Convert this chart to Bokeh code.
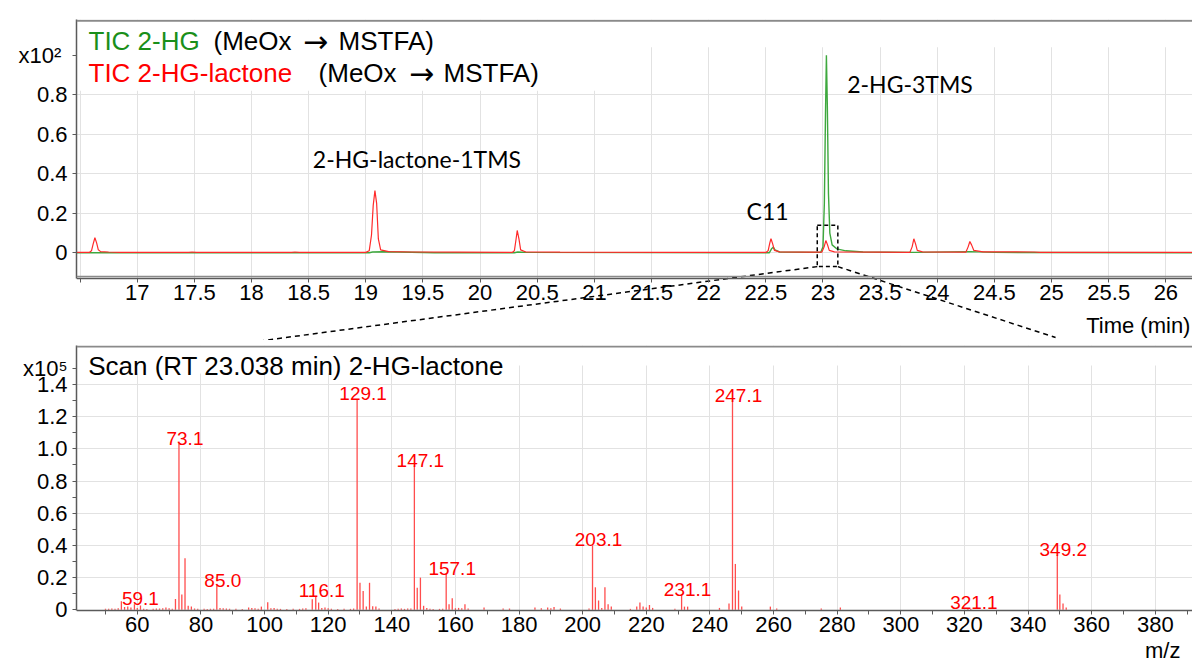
from bokeh.plotting import figure
from bokeh.layouts import column
from bokeh.models import Range1d, FixedTicker, Label, BoxAnnotation, Span
from bokeh.core.properties import value
from bokeh.embed import file_html
from bokeh.resources import INLINE

SANS = "Liberation Sans"
CAPTION = "Lato"
ARROW_FONT = "DejaVu Sans"
GREEN_TXT = "#1a8f1a"
GREEN_LINE = "#3ea83e"
RED_TXT = "#ff0000"
RED_LINE = "#ff2a2a"
STICK = "#ff4d4d"
GRID = "#e2e2e2"
AXIS = "#5a5a5a"
FRAME = "#8a8a8a"

# ---- TIC traces, retention time (min) vs. abundance (x10^2) ----
TIC_LACTONE_T = [16.47, 16.58, 16.60, 16.615, 16.63, 16.645, 16.66, 16.68, 16.75, 16.85,
                 17.45, 17.48, 17.52, 18.35, 18.38, 18.42,
                 19.00, 19.03, 19.05, 19.065, 19.08, 19.095, 19.11, 19.13, 19.20, 19.40, 19.80,
                 20.28, 20.30, 20.315, 20.325, 20.34, 20.355, 20.40, 20.70, 21.70,
                 22.50, 22.52, 22.535, 22.545, 22.56, 22.575, 22.62, 22.90,
                 22.99, 23.01, 23.025, 23.04, 23.055, 23.10, 23.50,
                 23.76, 23.78, 23.795, 23.81, 23.825, 23.87,
                 24.25, 24.27, 24.285, 24.30, 24.32, 24.40, 24.85, 24.90, 26.25]
TIC_LACTONE_I = [0.002, 0.002, 0.010, 0.045, 0.076, 0.050, 0.015, 0.006, 0.004, 0.002,
                 0.002, 0.004, 0.002, 0.002, 0.004, 0.002,
                 0.002, 0.010, 0.090, 0.240, 0.315, 0.250, 0.070, 0.015, 0.006, 0.004, 0.003,
                 0.002, 0.010, 0.070, 0.113, 0.070, 0.015, 0.004, 0.003, 0.002,
                 0.002, 0.010, 0.050, 0.071, 0.045, 0.012, 0.005, 0.003,
                 0.003, 0.030, 0.062, 0.040, 0.012, 0.005, 0.003,
                 0.002, 0.030, 0.071, 0.045, 0.012, 0.005,
                 0.003, 0.030, 0.057, 0.040, 0.012, 0.005, 0.004, 0.002, 0.002]

TIC_HG_T = [16.47, 19.03, 19.06, 19.15, 19.40, 19.60, 20.30, 20.33, 20.40,
            22.53, 22.55, 22.565, 22.58, 22.62, 22.98, 23.00, 23.012, 23.022, 23.03,
            23.038, 23.048, 23.06, 23.08, 23.12, 23.20, 23.35, 23.80, 24.29, 24.50, 26.25]
TIC_HG_I = [0.0, 0.0, 0.004, 0.005, 0.003, 0.0, 0.0, 0.004, 0.002,
            0.0, 0.020, 0.028, 0.015, 0.004, 0.002, 0.030, 0.250, 0.700, 1.000,
            0.750, 0.300, 0.100, 0.040, 0.020, 0.010, 0.004, 0.002, 0.006, 0.002, 0.0]

TIME_TICKS = [16.5, 17, 17.5, 18, 18.5, 19, 19.5, 20, 20.5, 21, 21.5, 22,
              22.5, 23, 23.5, 24, 24.5, 25, 25.5, 26]
TIC_TICKS = [0, 0.2, 0.4, 0.6, 0.8, 1.0]
TIC_GRID = [0, 0.2, 0.4, 0.6, 0.8]

# window around the scanned peak
ZOOM_T = [22.95, 23.13]
ZOOM_I = [-0.07, 0.14]

# ---- mass spectrum at RT 23.038 min, m/z vs. abundance (x10^5) ----
MZ = [50, 51, 52, 53, 54, 55, 56, 57, 58, 59.1, 60, 61, 62, 63, 65, 66, 67, 68, 69, 70,
      71, 72, 73.1, 74, 75, 76, 77, 78, 79, 81, 82, 83, 84, 85.0, 86, 87, 88, 89, 91, 93,
      95, 96, 97, 98, 99, 101, 102, 103, 104, 105, 107, 109, 111, 112, 113, 115, 116.1, 117,
      118, 119, 120, 121, 123, 125, 127, 128, 129.1, 130, 131, 132, 133, 134, 135, 136,
      141, 142, 143, 144, 145, 146, 147.1, 148, 149, 150, 151, 152, 153, 155, 156, 157.1,
      158, 159, 160, 161, 162, 163, 164, 169, 175, 177, 185, 187, 189, 190, 191, 193,
      202, 203.1, 204, 205, 206, 207, 208, 209, 215, 217, 218, 219, 220, 221, 222, 229,
      231.1, 232, 233, 243, 246, 247.1, 248, 249, 250, 259, 261, 275, 281, 321.1, 322,
      349.2, 350, 351, 352]
ABUND = [0.006, 0.006, 0.008, 0.006, 0.010, 0.054, 0.018, 0.020, 0.015, 0.035, 0.012,
         0.027, 0.006, 0.005, 0.006, 0.008, 0.008, 0.010, 0.015, 0.010,
         0.006, 0.068, 1.03, 0.095, 0.32, 0.025, 0.020, 0.008, 0.006, 0.006, 0.005, 0.006,
         0.006, 0.151, 0.012, 0.010, 0.008, 0.006, 0.006, 0.005,
         0.015, 0.012, 0.010, 0.006, 0.020, 0.047, 0.010, 0.012, 0.006, 0.006, 0.005, 0.006,
         0.006, 0.008, 0.010, 0.065, 0.085, 0.045,
         0.012, 0.015, 0.010, 0.006, 0.005, 0.006, 0.006, 0.008, 1.31, 0.168, 0.117, 0.020,
         0.168, 0.022, 0.020, 0.008,
         0.005, 0.006, 0.008, 0.006, 0.008, 0.008, 0.896, 0.137, 0.200, 0.025, 0.012, 0.006,
         0.005, 0.006, 0.006, 0.224,
         0.035, 0.072, 0.010, 0.012, 0.010, 0.035, 0.008, 0.015, 0.008, 0.008, 0.015, 0.010,
         0.015, 0.010, 0.018, 0.008,
         0.008, 0.40, 0.140, 0.058, 0.012, 0.140, 0.035, 0.020, 0.006, 0.020, 0.045, 0.020,
         0.015, 0.030, 0.012, 0.006,
         0.095, 0.020, 0.020, 0.012, 0.040, 1.30, 0.285, 0.120, 0.020, 0.020, 0.008, 0.008,
         0.015, 0.012, 0.006,
         0.34, 0.095, 0.040, 0.015]
MZ_LABELED = [59.1, 73.1, 85.0, 116.1, 129.1, 147.1, 157.1, 203.1, 231.1, 247.1, 321.1, 349.2]
MZ_TICKS = [60, 80, 100, 120, 140, 160, 180, 200, 220, 240, 260, 280, 300, 320, 340, 360, 380]
MZ_MINOR = [50, 70, 90, 110, 130, 150, 170, 190, 210, 230, 250, 270, 290, 310, 330, 350, 370, 390]
ABUND_TICKS = [0, 0.2, 0.4, 0.6, 0.8, 1.0, 1.2, 1.4]
ABUND_MINOR = [0.1, 0.3, 0.5, 0.7, 0.9, 1.1, 1.3]
ABUND_SCALE_TICK = 1.5

# plot ranges; the lower part of each frame holds the x axis, drawn at a fixed level
TOP_X = (16.469, 26.233)
TOP_Y = (-0.444, 1.181)
TOP_AXIS_AT = -0.13
BOT_X = (40.89, 391.7)
BOT_Y = (-0.352, 1.642)
BOT_AXIS_AT = -0.004


def num_label(v):
    return "0" if v == 0 else f"{v:.1f}"


def style_axes(p, x_at, y_top):
    xa, ya = p.xaxis[0], p.yaxis[0]
    xa.fixed_location = x_at
    ya.bounds = (x_at, y_top)
    for ax in (xa, ya):
        ax.axis_line_color = AXIS
        ax.axis_line_width = 1.5
        ax.major_tick_line_color = AXIS
        ax.minor_tick_line_color = AXIS
        ax.major_tick_in = 0
        ax.major_tick_out = 4
        ax.minor_tick_in = 0
        ax.minor_tick_out = 4
        ax.major_label_text_font = SANS
        ax.major_label_text_font_size = "22px"
        ax.major_label_text_color = "black"
    xa.major_label_standoff = 3
    ya.major_label_standoff = 5
    p.outline_line_color = None
    p.grid.grid_line_color = GRID
    p.grid.grid_line_width = 1
    p.grid.level = "image"
    p.background_fill_color = "white"
    p.border_fill_color = "white"
    # top edge of the panel and a clean area under the x axis
    p.add_layout(Span(location=y_top - 0.006, dimension="width", line_color=FRAME, line_width=2))
    p.add_layout(BoxAnnotation(top=x_at, fill_color="white", fill_alpha=1,
                               line_color=None, level="underlay"))


def text_label(p, x, y, text, size, color="black", font=SANS, align="left"):
    # y is the vertical middle of the text line
    p.add_layout(Label(x=x, y=y, text=text, text_font=font, text_font_size=size,
                       text_color=color, text_align=align, text_baseline="middle"))


# ================= chromatogram =================
top = figure(width=1192, height=340, output_backend="svg", toolbar_location=None,
             x_range=Range1d(*TOP_X), y_range=Range1d(*TOP_Y),
             min_border_left=76, min_border_right=0, min_border_top=19, min_border_bottom=0)
style_axes(top, TOP_AXIS_AT, TOP_Y[1])
top.xaxis[0].ticker = FixedTicker(ticks=TIME_TICKS)
top.xaxis[0].major_label_overrides = {t: ("" if t == TIME_TICKS[0] else f"{t:g}") for t in TIME_TICKS}
top.xaxis[0].minor_tick_line_color = None
top.yaxis[0].ticker = FixedTicker(ticks=TIC_TICKS)
top.yaxis[0].major_label_overrides = {v: ("x10\u00b2\u00a0" if v == TIC_TICKS[-1] else num_label(v))
                                      for v in TIC_TICKS}
top.yaxis[0].minor_tick_line_color = None
top.xgrid[0].ticker = FixedTicker(ticks=TIME_TICKS)
top.ygrid[0].ticker = FixedTicker(ticks=TIC_GRID)

# frame line just above the axis
top.add_layout(Span(location=TOP_AXIS_AT + 0.01, dimension="width", line_color=FRAME, line_width=1.5))

# keep the grid clear behind the trace legend and the top strip
top.add_layout(BoxAnnotation(right=21.23, bottom=0.82, fill_color="white", fill_alpha=1,
                             line_color=None, level="underlay"))
top.add_layout(BoxAnnotation(bottom=1.04, fill_color="white", fill_alpha=1,
                             line_color=None, level="underlay"))

top.line(TIC_HG_T, TIC_HG_I, line_color=GREEN_LINE, line_width=1.4)
top.line(TIC_LACTONE_T, TIC_LACTONE_I, line_color=RED_LINE, line_width=1.2)

# dashed window around the scanned peak and its connectors toward the spectrum
top.quad(left=[ZOOM_T[0]], right=[ZOOM_T[1]], bottom=[ZOOM_I[0]], top=[ZOOM_I[1]],
         fill_color=None, line_color="black", line_width=1.5, line_dash="4 3")
top.segment(x0=ZOOM_T, y0=[ZOOM_I[0], ZOOM_I[0]], x1=[18.105, 25.035], y1=[-0.444, -0.429],
            line_color="black", line_width=1.5, line_dash="5 4")

# legend
text_label(top, 16.574, 1.070, "TIC 2-HG", "26px", GREEN_TXT)
text_label(top, 17.668, 1.070, "(MeOx", "26px")
text_label(top, 18.56, 1.070, "\u2192", "30px", font=ARROW_FONT, align="center")
text_label(top, 18.762, 1.070, "MSTFA)", "26px")
text_label(top, 16.574, 0.908, "TIC 2-HG-lactone", "26px", RED_TXT)
text_label(top, 18.587, 0.908, "(MeOx", "26px")
text_label(top, 19.488, 0.908, "\u2192", "30px", font=ARROW_FONT, align="center")
text_label(top, 19.680, 0.908, "MSTFA)", "26px")

# peak names
text_label(top, 18.537, 0.476, "2-HG-lactone-1TMS", "23px", font=CAPTION)
text_label(top, 22.331, 0.214, "C11", "23px", font=CAPTION)
text_label(top, 23.212, 0.856, "2-HG-3TMS", "23px", font=CAPTION)

text_label(top, 26.215, -0.368, "Time (min)", "22px", align="right")

# ================= mass spectrum =================
bot = figure(width=1192, height=326, output_backend="svg", toolbar_location=None,
             x_range=Range1d(*BOT_X), y_range=Range1d(*BOT_Y),
             min_border_left=72, min_border_right=0, min_border_top=5, min_border_bottom=0)
style_axes(bot, BOT_AXIS_AT, BOT_Y[1])
bot.xaxis[0].ticker = FixedTicker(ticks=MZ_TICKS, minor_ticks=MZ_MINOR)
bot.xaxis[0].major_label_overrides = {m: str(m) for m in MZ_TICKS}
bot.yaxis[0].ticker = FixedTicker(ticks=ABUND_TICKS + [ABUND_SCALE_TICK], minor_ticks=ABUND_MINOR)
overrides = {v: num_label(v) for v in ABUND_TICKS}
overrides[ABUND_SCALE_TICK] = "x10\u2075"
bot.yaxis[0].major_label_overrides = overrides
bot.xgrid[0].ticker = FixedTicker(ticks=MZ_TICKS)
bot.ygrid[0].ticker = FixedTicker(ticks=ABUND_TICKS[1:])

bot.add_layout(BoxAnnotation(right=170.0, bottom=1.468, fill_color="white", fill_alpha=1,
                             line_color=None, level="underlay"))
bot.add_layout(BoxAnnotation(bottom=1.517, fill_color="white", fill_alpha=1,
                             line_color=None, level="underlay"))

bot.segment(x0=MZ, y0=0, x1=MZ, y1=ABUND, line_color=STICK, line_width=1.3)

lab_y = [ABUND[MZ.index(m)] for m in MZ_LABELED]
bot.text(x=MZ_LABELED, y=lab_y, text=[f"{m:.1f}" for m in MZ_LABELED],
         text_align="center", text_baseline="middle", x_offset=6, y_offset=-5.5,
         text_font=value(SANS), text_font_size="19px", text_color=RED_TXT)

text_label(bot, 44.55, 1.512, "Scan (RT 23.038 min) 2-HG-lactone", "26px")
text_label(bot, 387.9, -0.255, "m/z", "22px", align="right")

page = column(top, bot, spacing=0)
open("out.html", "w").write(file_html(page, INLINE))
